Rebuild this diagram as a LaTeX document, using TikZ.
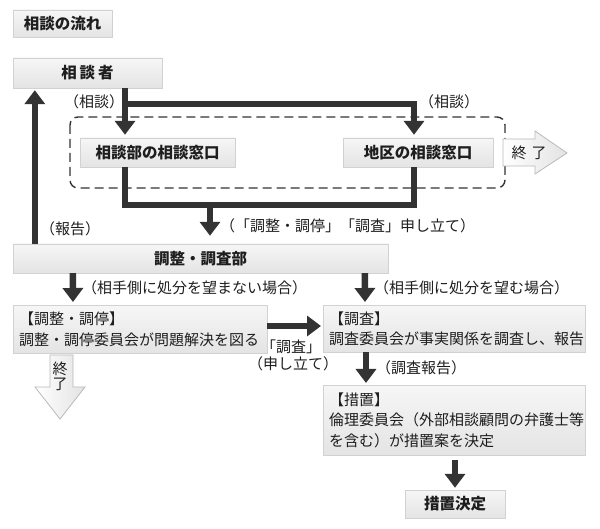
\documentclass[tikz,border=0pt]{standalone}
\usepackage{fontspec}
\setmainfont{Noto Sans CJK JP}
\usetikzlibrary{arrows.meta}

\definecolor{boxline}{HTML}{D2D2D2}
\definecolor{boxtop}{HTML}{F6F6F6}
\definecolor{boxbot}{HTML}{E4E4E4}
\definecolor{flowline}{HTML}{333333}
\definecolor{inktext}{HTML}{1E1E1E}

\tikzset{
  graybox/.style={draw=boxline, top color=boxtop, bottom color=boxbot,
    text=inktext, inner sep=0pt, font=\fontsize{15.5}{18}\selectfont\bfseries},
  textbox/.style={graybox, anchor=north west, align=left, inner xsep=6pt,
    font=\fontsize{15}{20.5}\selectfont},
  flow/.style={draw=flowline, line width=6.5pt},
  flowarrow/.style={flow, -{Triangle[width=20pt,length=14pt]}},
  note/.style={text=inktext, inner sep=0pt, anchor=west,
    font=\fontsize{15}{16}\selectfont},
  endarrow/.style={draw=gray!55, line width=0.8pt, left color=white, right color=gray!22},
}

\begin{document}
\begin{tikzpicture}[x=1pt, y=-1pt]
    \useasboundingbox (0,0) rectangle (600,529);

    % boxes
    \node [graybox, minimum width=99pt, minimum height=27pt] (title) at (62.5,23.5) {相談の流れ};
    \node [graybox, minimum width=149pt, minimum height=30pt] (sodansha) at (87.5,73) {相\hspace{3pt}談\hspace{3pt}者};
    \draw [dash pattern=on 9pt off 5pt, line width=1.4pt, draw=flowline, rounded corners=8pt] (70,117) rectangle (505,188);
    \node [graybox, minimum width=155pt, minimum height=29pt] (madoguchi) at (157.5,152.5) {相談部の相談窓口};
    \node [graybox, minimum width=150pt, minimum height=29pt] (chiku) at (418,152.5) {地区の相談窓口};
    \node [graybox, minimum width=375pt, minimum height=29pt] (chosabu) at (200.5,258.5) {調整・調査部};
    \node [textbox, text width=242pt, minimum height=48pt] (chotei) at (13,305) {【調整・調停】\\調整・調停委員会が問題解決を図る};
    \node [textbox, text width=250pt, minimum height=47pt] (chosa) at (323,305) {【調査】\\調査委員会が事実関係を調査し、報告};
    \node [textbox, text width=250pt, minimum height=70pt] (sochi) at (323,385) {【措置】\\倫理委員会（外部相談顧問の弁護士等\\を含む）が措置案を決定};
    \node [graybox, minimum width=100pt, minimum height=28pt] (kettei) at (455,504) {措置決定};

    % end arrows
    \draw [endarrow] (503,139) -- (535,139) -- (535,131) -- (567,153) -- (535,174) -- (535,166) -- (503,166) -- cycle;
    \node [text=inktext, font=\fontsize{15}{16}\selectfont] (shuryo1) at (529,153) {終\hspace{5pt}了};
    \draw [endarrow] (50,355) -- (73,355) -- (73,387) -- (85,387) -- (60,419) -- (35,387) -- (50,387) -- cycle;
    \node [text=inktext, align=center, font=\fontsize{15}{15}\selectfont] (shuryo2) at (60,376) {終\\了};

    % connectors
    \coordinate (c1) at (125,104);
    \coordinate (c2) at (414,104);
    \coordinate (c3) at (210,205);
    \draw [flowarrow, shorten >=2pt] ([xshift=22pt]chosabu.north west) -- ([xshift=22pt]sodansha.south west);
    \draw [flowarrow, shorten >=3pt] (sodansha.south -| c1) -- (madoguchi.north -| c1);
    \draw [flowarrow, shorten >=3pt] (c1) -- (c2) -- (chiku.north -| c2);
    \draw [flow] (madoguchi.south -| c1) -- (c1 |- c3) -- (c2 |- c3) -- (chiku.south -| c2);
    \draw [flowarrow, shorten >=8pt] (c3) -- (chosabu.north -| c3);
    \draw [flowarrow, shorten >=3pt] ([xshift=60pt]chosabu.south west) -- ([xshift=60pt]chotei.north west);
    \draw [flowarrow, shorten >=3pt] ([xshift=352pt]chosabu.south west) -- ([xshift=42pt]chosa.north west);
    \draw [flowarrow, shorten >=2pt] ([yshift=-21pt]chotei.north east) -- ([yshift=-21pt]chosa.north west);
    \draw [flowarrow, shorten >=2pt] ([xshift=43pt]chosa.south west) -- ([xshift=43pt]sochi.north west);
    \draw [flowarrow, shorten <=5pt, shorten >=2pt] (sochi.south -| kettei) -- (kettei.north);

    % labels
    \node [note] (lsodan1) at (64,102) {（相談）};
    \node [note] (lsodan2) at (419,102) {（相談）};
    \node [note] (lmoushi) at (220,226) {（「調整・調停」「調査」申し立て）};
    \node [note] (lhokoku) at (40,229) {（報告）};
    \node [note] (lnozomanai) at (82,288) {（相手側に処分を望まない場合）};
    \node [note] (lnozomu) at (374,288) {（相手側に処分を望む場合）};
    \node [note, anchor=center] (lchosa) at (291,347) {「調査」};
    \node [note, anchor=center] (ltate) at (293,364) {（申し立て）};
    \node [note] (lchosahokoku) at (376,368) {（調査報告）};
\end{tikzpicture}
\end{document}
